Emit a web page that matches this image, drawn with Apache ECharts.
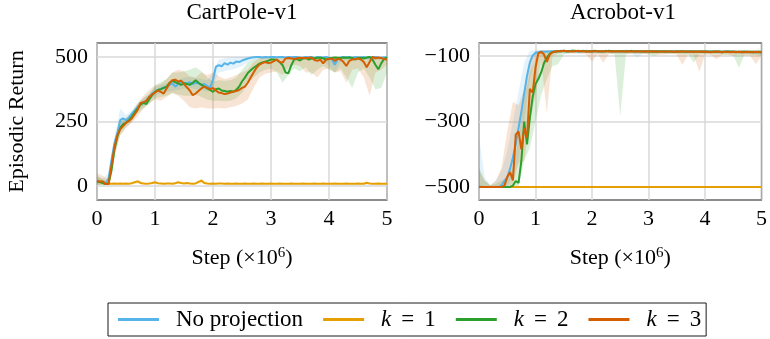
<!DOCTYPE html>
<html>
<head>
<meta charset="utf-8">
<script src="https://cdn.jsdelivr.net/npm/echarts@6/dist/echarts.min.js"></script>
<style>
  html, body { margin: 0; padding: 0; background: #fff; }
  #chart { width: 770px; height: 339px; }
</style>
</head>
<body>
<div id="chart"></div>
<script>
// step grid (x10^6): means every 0.05, bands every 0.1
const stepsFine = [];
for (let i = 0; i <= 100; i++) stepsFine.push(+(i * 0.05).toFixed(2));
const stepsCoarse = [];
for (let j = 0; j <= 50; j++) stepsCoarse.push(+(j * 0.1).toFixed(1));

const seriesNames = ['No projection', 'k = 1', 'k = 2', 'k = 3'];
const seriesColors = ['#56B4E9', '#E69F00', '#2CA02C', '#D55E00'];

const cartTicks = [0, 250, 500];
const acroTicks = [-500, -300, -100];

// ---- CartPole-v1 mean return ----
const cpNoProj = [18,16,14,10,30,100,165,205,255,262,
  255,265,280,292,306,316,322,330,345,358,
  366,372,376,382,380,392,398,385,395,404,
  400,398,402,395,400,398,392,395,388,380,
  412,462,468,464,476,470,478,474,482,480,
  486,490,494,497,499,500,500,498,500,499,
  500,500,499,500,500,498,500,499,500,500,
  497,498,500,499,500,496,500,499,498,500,
  497,490,470,492,498,500,499,500,497,500,
  499,498,500,496,500,499,500,498,497,499,
  496];
const cpK1 = [18,16,12,9,9,9,10,9,10,9,
  10,9,11,15,18,12,10,9,10,12,
  15,11,10,9,10,10,9,11,15,12,
  10,12,10,9,10,16,21,12,10,9,
  10,9,10,10,9,10,9,9,10,9,
  9,10,9,9,10,9,9,10,9,9,
  10,9,9,10,9,9,9,10,9,9,
  9,10,9,9,9,10,9,9,10,9,
  9,9,10,9,9,9,10,9,9,9,
  10,9,9,13,10,9,9,10,9,9,
  9];
const cpK2 = [18,16,12,8,10,60,140,190,225,240,
  245,255,268,285,300,315,322,318,335,352,
  365,372,375,380,385,400,408,402,398,392,
  398,395,392,400,410,400,392,385,378,372,
  365,375,378,370,368,365,368,366,372,385,
  405,420,438,448,458,466,474,479,482,485,
  490,490,488,480,468,440,437,468,490,492,
  486,494,496,490,494,495,497,497,495,490,
  494,496,498,497,496,498,497,498,496,490,
  496,497,494,498,500,490,470,452,475,492,
  500];
const cpK3 = [20,18,18,8,8,80,150,195,220,232,
  245,252,262,278,295,322,325,330,345,355,
  362,370,365,358,378,398,410,412,405,408,
  395,382,370,352,358,368,378,385,380,375,
  380,370,362,360,356,358,362,365,368,372,
  380,385,400,420,440,458,470,476,480,476,
  478,484,490,480,478,494,496,494,492,495,
  497,496,495,497,498,488,485,490,475,490,
  492,494,485,493,490,480,465,485,490,492,
  494,490,480,460,480,500,495,498,496,492,
  490];

// ---- CartPole-v1 spread (low / high) ----
const cpNoProjLo = [5,5,10,140,225,235,265,292,308,330,
  350,360,365,368,372,378,380,375,372,365,
  385,440,445,450,455,465,478,488,492,494,
  495,494,493,495,490,488,492,494,490,485,
  465,440,480,488,492,490,494,488,490,486,
  488];
const cpNoProjHi = [40,30,50,185,300,275,295,322,338,360,
  382,392,398,405,412,420,422,418,415,410,
  440,490,495,498,500,500,500,500,500,500,
  500,500,500,500,500,500,500,500,500,500,
  500,500,500,500,500,500,500,500,500,500,
  500];
const cpK1Lo = [5,5,6,7,7,7,7,9,7,7,
  8,7,7,8,9,8,7,8,10,7,
  7,7,7,7,7,7,7,7,7,7,
  7,7,7,7,7,7,7,7,7,7,
  7,7,7,7,7,7,7,7,7,7,
  7];
const cpK1Hi = [40,25,14,12,12,12,13,26,13,12,
  17,12,12,13,17,13,12,14,28,12,
  12,12,12,12,12,12,12,12,12,12,
  12,12,12,12,12,12,12,12,12,12,
  12,12,12,12,12,12,14,12,12,12,
  12];
const cpK2Lo = [5,5,5,110,200,228,250,282,300,318,
  340,345,350,360,355,350,350,355,345,335,
  330,330,328,330,340,360,395,420,440,450,
  455,440,400,430,455,445,460,430,450,465,
  450,440,455,420,380,440,455,420,375,380,
  440];
const cpK2Hi = [35,25,20,170,250,262,285,318,342,355,
  390,402,415,440,440,445,450,460,445,420,
  405,410,408,410,420,450,478,490,495,498,
  500,500,500,500,500,500,500,500,500,500,
  500,500,500,500,500,500,500,500,500,500,
  500];
const cpK3Lo = [5,5,5,120,195,225,245,270,300,320,
  335,330,345,360,350,330,305,300,305,300,
  300,302,300,305,310,320,335,380,420,435,
  440,445,430,460,470,465,440,440,420,450,
  455,440,445,400,450,455,420,350,440,450,
  470];
const cpK3Hi = [50,40,25,180,250,265,285,320,350,372,
  390,395,415,440,450,445,425,420,440,430,
  440,425,415,420,430,440,450,480,495,500,
  500,500,500,500,500,500,500,500,500,500,
  500,500,500,500,500,500,500,500,500,500,
  500];

// ---- Acrobot-v1 mean return ----
const acNoProj = [-498,-500,-500,-500,-500,-500,-500,-500,-495,-482,
  -470,-445,-410,-370,-320,-270,-215,-160,-120,-98,
  -90,-88,-86,-87,-86,-86,-85,-86,-85,-84,
  -85,-86,-85,-84,-85,-86,-85,-85,-84,-85,
  -86,-85,-86,-85,-85,-84,-85,-86,-85,-85,
  -86,-85,-84,-85,-86,-85,-85,-86,-85,-86,
  -85,-85,-86,-85,-86,-85,-86,-86,-85,-86,
  -85,-86,-87,-86,-86,-85,-86,-87,-86,-86,
  -87,-86,-86,-87,-86,-87,-86,-87,-87,-86,
  -87,-88,-87,-88,-87,-87,-88,-87,-88,-88,
  -88];
const acK1 = [-500,-500,-500,-500,-500,-500,-500,-500,-500,-500,
  -500,-500,-500,-500,-500,-500,-500,-500,-500,-500,
  -500,-500,-500,-500,-500,-500,-500,-500,-500,-500,
  -500,-500,-500,-500,-500,-500,-500,-500,-500,-500,
  -500,-500,-500,-500,-500,-500,-500,-500,-500,-500,
  -500,-500,-500,-500,-500,-500,-500,-500,-500,-500,
  -500,-500,-500,-500,-500,-500,-500,-500,-500,-500,
  -500,-500,-500,-500,-500,-500,-500,-500,-500,-500,
  -500,-500,-500,-500,-500,-500,-500,-500,-500,-500,
  -500,-500,-500,-500,-500,-500,-500,-500,-500,-500,
  -500];
const acK2 = [-500,-500,-500,-500,-500,-500,-500,-500,-500,-500,
  -500,-500,-496,-482,-488,-420,-300,-370,-290,-225,
  -185,-170,-150,-122,-105,-93,-88,-86,-85,-85,
  -84,-85,-85,-84,-84,-85,-85,-84,-86,-85,
  -85,-84,-85,-85,-86,-85,-84,-85,-85,-86,
  -85,-85,-86,-85,-84,-86,-85,-85,-86,-85,
  -86,-85,-87,-85,-86,-86,-85,-86,-86,-87,
  -86,-86,-85,-87,-86,-86,-87,-86,-86,-87,
  -86,-87,-87,-86,-87,-86,-88,-87,-86,-87,
  -87,-87,-88,-87,-87,-88,-87,-88,-88,-87,
  -88];
const acK3 = [-500,-500,-500,-500,-500,-500,-500,-500,-500,-496,
  -470,-455,-480,-340,-330,-385,-320,-350,-200,-212,
  -135,-92,-87,-95,-118,-96,-88,-86,-85,-85,
  -84,-85,-85,-86,-85,-84,-85,-85,-86,-85,
  -86,-85,-85,-86,-85,-85,-86,-85,-86,-85,
  -85,-86,-86,-85,-86,-86,-85,-86,-86,-85,
  -86,-86,-85,-87,-86,-86,-87,-86,-86,-87,
  -86,-87,-86,-86,-87,-87,-86,-87,-87,-86,
  -87,-87,-88,-87,-86,-87,-88,-87,-87,-88,
  -87,-88,-87,-88,-88,-87,-88,-88,-87,-88,
  -88];

// ---- Acrobot-v1 spread (low / high) ----
const acNoProjLo = [-500,-500,-500,-500,-500,-495,-470,-420,-300,-170,
  -100,-95,-92,-90,-90,-91,-90,-89,-92,-90,
  -90,-91,-92,-90,-89,-90,-91,-92,-105,-92,
  -90,-91,-90,-92,-91,-90,-91,-92,-90,-91,
  -92,-91,-93,-92,-91,-93,-92,-93,-95,-94,
  -96];
const acNoProjHi = [-345,-470,-495,-480,-450,-390,-300,-210,-120,-84,
  -82,-82,-82,-82,-82,-82,-82,-82,-82,-82,
  -82,-82,-82,-82,-82,-82,-82,-82,-82,-82,
  -82,-82,-82,-82,-82,-82,-82,-82,-82,-82,
  -82,-82,-82,-82,-82,-82,-82,-82,-82,-82,
  -82];
const acK2Lo = [-500,-500,-500,-500,-500,-500,-500,-500,-420,-380,
  -300,-220,-170,-130,-125,-95,-92,-90,-91,-90,
  -92,-91,-93,-92,-95,-285,-95,-92,-91,-93,
  -94,-100,-93,-92,-94,-93,-95,-94,-120,-94,
  -93,-95,-94,-96,-95,-98,-136,-96,-95,-97,
  -100];
const acK2Hi = [-440,-480,-495,-490,-480,-470,-440,-350,-230,-150,
  -105,-88,-84,-83,-83,-82,-82,-82,-82,-82,
  -82,-82,-82,-82,-82,-82,-82,-82,-82,-82,
  -82,-82,-82,-82,-82,-82,-82,-82,-82,-82,
  -82,-82,-82,-82,-82,-82,-82,-82,-82,-82,
  -82];
const acK3Lo = [-500,-500,-500,-500,-500,-500,-490,-430,-420,-300,
  -220,-110,-275,-100,-92,-90,-91,-93,-92,-95,
  -117,-94,-120,-93,-92,-94,-93,-92,-94,-93,
  -95,-94,-96,-95,-93,-96,-127,-95,-97,-148,
  -96,-95,-110,-96,-97,-99,-96,-98,-100,-125,
  -100];
const acK3Hi = [-450,-480,-495,-480,-440,-330,-240,-250,-200,-110,
  -85,-82,-82,-82,-82,-82,-82,-82,-82,-82,
  -82,-82,-82,-82,-82,-82,-82,-82,-82,-82,
  -82,-82,-82,-82,-82,-82,-82,-82,-82,-82,
  -82,-82,-82,-82,-82,-82,-82,-82,-82,-82,
  -82];

const FONT = 'Liberation Serif';

function pairs(xs, ys) {
  return ys.map((y, i) => [xs[i], y]);
}

function lineSeries(idx, ys, gi) {
  return {
    name: seriesNames[idx],
    type: 'line',
    xAxisIndex: gi,
    yAxisIndex: gi,
    data: pairs(stepsFine, ys),
    showSymbol: false,
    symbol: 'none',
    z: 3,
    color: seriesColors[idx],
    lineStyle: { width: 2, color: seriesColors[idx] },
  };
}

// shaded spread drawn as one polygon through the axis scales
function bandSeries(idx, lo, hi, gi) {
  return {
    name: seriesNames[idx],
    type: 'custom',
    xAxisIndex: gi,
    yAxisIndex: gi,
    silent: true,
    z: 1,
    data: [0],
    renderItem: function (params, api) {
      const pts = [];
      for (let j = 0; j < hi.length; j++) pts.push(api.coord([stepsCoarse[j], hi[j]]));
      for (let j = lo.length - 1; j >= 0; j--) pts.push(api.coord([stepsCoarse[j], lo[j]]));
      return {
        type: 'polygon',
        shape: { points: pts },
        style: { fill: seriesColors[idx], opacity: 0.17 },
      };
    },
  };
}

function xAxisCfg(gi) {
  return {
    type: 'value',
    gridIndex: gi,
    min: 0,
    max: 5,
    interval: 1,
    name: 'Step (×10{sup|6})',
    nameLocation: 'middle',
    nameGap: 46,
    nameTextStyle: {
      fontFamily: FONT, fontSize: 22, color: '#000',
      rich: { sup: { fontFamily: FONT, fontSize: 15, color: '#000', padding: [0, 0, 10, 0] } },
    },
    axisLine: { show: false },
    axisTick: { show: false },
    axisLabel: { margin: 8, fontFamily: FONT, fontSize: 22, color: '#000' },
    splitLine: { show: true, lineStyle: { color: '#d9d9d9', width: 1.5 } },
  };
}

function yAxisCfg(gi, min, max, ticks, name) {
  return {
    type: 'value',
    gridIndex: gi,
    min: min,
    max: max,
    name: name,
    nameLocation: 'middle',
    nameRotate: 90,
    nameGap: 69,
    nameTextStyle: { fontFamily: FONT, fontSize: 22, color: '#000' },
    axisLine: { show: false },
    axisTick: { show: false, customValues: ticks },
    axisLabel: {
      customValues: ticks,
      margin: 9,
      fontFamily: FONT,
      fontSize: 22,
      color: '#000',
      formatter: v => (v < 0 ? '\u2212' + Math.abs(v) : String(v)),
    },
    splitLine: { show: true, lineStyle: { color: '#d9d9d9', width: 1.5 } },
  };
}

const chart = echarts.init(document.getElementById('chart'));
const option = {
  animation: false,
  backgroundColor: '#fff',
  graphic: [
    { type: 'text', x: 242, y: 13, style: { text: 'CartPole-v1', font: '23px "' + FONT + '"', fill: '#000', align: 'center', verticalAlign: 'middle' } },
    { type: 'text', x: 623, y: 13, style: { text: 'Acrobot-v1', font: '23px "' + FONT + '"', fill: '#000', align: 'center', verticalAlign: 'middle' } },
  ],
  grid: [
    { left: 97, top: 43, width: 290, height: 157, show: true, borderColor: '#1a1a1a', borderWidth: 1.2, backgroundColor: 'transparent' },
    { left: 479, top: 43, width: 289, height: 157, show: true, borderColor: '#1a1a1a', borderWidth: 1.2, backgroundColor: 'transparent' },
  ],
  xAxis: [xAxisCfg(0), xAxisCfg(1)],
  yAxis: [
    yAxisCfg(0, -54, 554, cartTicks, 'Episodic Return'),
    yAxisCfg(1, -540, -60, acroTicks, ''),
  ],
  legend: {
    left: 108,
    top: 303,
    data: seriesNames,
    icon: 'rect',
    itemWidth: 41,
    itemHeight: 3,
    itemGap: 20,
    borderColor: '#1a1a1a',
    borderWidth: 1,
    padding: [5, 5, 5, 10],
    formatter: function (name) {
      if (name.charAt(0) === 'k') return '{i|k}{eq|=}' + name.slice(4);
      return name;
    },
    textStyle: {
      fontFamily: FONT,
      fontSize: 23,
      color: '#000',
      padding: [0, 0, 0, 12],
      rich: {
        i: { fontFamily: FONT, fontSize: 23, fontStyle: 'italic', color: '#000' },
        eq: { fontFamily: FONT, fontSize: 23, color: '#000', padding: [0, 10, 0, 10] },
      },
    },
  },
  series: [
    lineSeries(0, cpNoProj, 0),
    lineSeries(1, cpK1, 0),
    lineSeries(2, cpK2, 0),
    lineSeries(3, cpK3, 0),
    lineSeries(0, acNoProj, 1),
    lineSeries(1, acK1, 1),
    lineSeries(2, acK2, 1),
    lineSeries(3, acK3, 1),
    bandSeries(0, cpNoProjLo, cpNoProjHi, 0),
    bandSeries(1, cpK1Lo, cpK1Hi, 0),
    bandSeries(2, cpK2Lo, cpK2Hi, 0),
    bandSeries(3, cpK3Lo, cpK3Hi, 0),
    bandSeries(0, acNoProjLo, acNoProjHi, 1),
    bandSeries(2, acK2Lo, acK2Hi, 1),
    bandSeries(3, acK3Lo, acK3Hi, 1),
  ],
};
chart.setOption(option);
</script>
</body>
</html>
